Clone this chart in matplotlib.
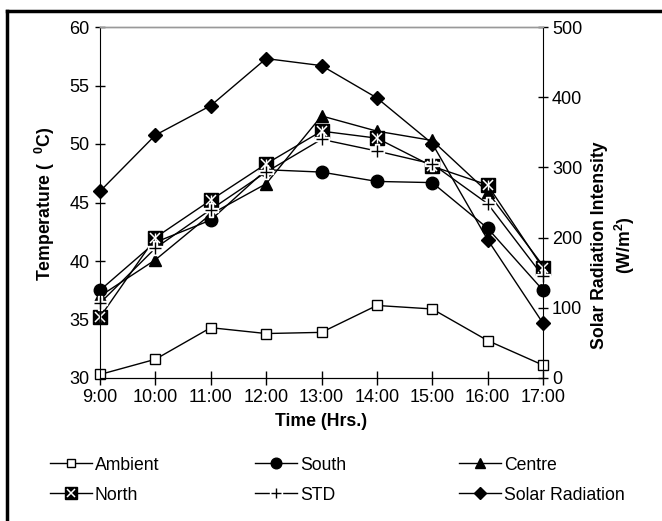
import numpy as np
import matplotlib
matplotlib.use('Agg')
import matplotlib.pyplot as plt
from matplotlib.lines import Line2D

plt.rcParams['font.family'] = ['Liberation Sans', 'DejaVu Sans']
plt.rcParams['mathtext.fontset'] = 'custom'
plt.rcParams['mathtext.rm'] = 'Liberation Sans'
plt.rcParams['mathtext.bf'] = 'Liberation Sans:bold'

# data
hours = [9, 10, 11, 12, 13, 14, 15, 16, 17]
hour_labels = ['9:00', '10:00', '11:00', '12:00', '13:00', '14:00', '15:00', '16:00', '17:00']
ambient = [30.3, 31.6, 34.3, 33.8, 33.9, 36.2, 35.9, 33.2, 31.1]
south = [37.5, 41.6, 43.5, 47.8, 47.6, 46.8, 46.7, 42.8, 37.5]
centre = [37.0, 40.1, 44.0, 46.6, 52.4, 51.1, 50.3, 45.9, 39.6]
north = [35.2, 42.0, 45.2, 48.3, 51.1, 50.5, 48.1, 46.5, 39.4]
std = [36.4, 41.1, 44.4, 47.6, 50.4, 49.4, 48.3, 44.9, 38.7]
solar = [266, 346, 388, 455, 445, 399, 334, 197, 78]

W, H = 662, 521
fig = plt.figure(figsize=(W / 100, H / 100), dpi=100)
ax = fig.add_axes([100 / W, 1 - 378 / H, 443 / W, 351 / H])
ax2 = ax.twinx()

kw = dict(color='black', lw=1, clip_on=False)
l_amb, = ax.plot(hours, ambient, marker='s', ms=7.5, mfc='white', mec='black', mew=1, **kw)
l_south, = ax.plot(hours, south, marker='o', ms=9, mfc='black', mec='black', **kw)
l_cen, = ax.plot(hours, centre, marker='^', ms=8.5, mfc='black', mec='black', **kw)
l_north, = ax.plot(hours, north, marker='s', ms=10, mfc='black', mec='black', **kw)
l_nx, = ax.plot(hours, north, ls='none', marker='x', ms=7, mec='white', mew=1.1, clip_on=False)
l_nv, = ax.plot(hours, north, ls='none', marker='|', ms=7, mec='white', mew=1.0, clip_on=False)
l_std, = ax.plot(hours, std, marker='P', ms=10, mfc='white', mec='white', **kw)
l_stdp, = ax.plot(hours, std, ls='none', marker='+', ms=9, mec='black', mew=1, clip_on=False)
l_sol, = ax2.plot(hours, solar, marker='D', ms=7, mfc='black', mec='black', **kw)

ax.set_xlim(9, 17)
ax.set_ylim(30, 60)
ax.set_yticks(range(30, 61, 5))
ax.set_xticks(hours)
ax.set_xticklabels(hour_labels)
ax2.set_ylim(0, 500)
ax2.set_yticks(range(0, 501, 100))

ax.tick_params(axis='x', direction='inout', length=10, width=1, labelsize=13, pad=3)
ax.tick_params(axis='y', direction='inout', length=7, width=1, labelsize=13, pad=4)
ax2.tick_params(axis='y', direction='inout', length=7, width=1, labelsize=13, pad=3)
for a in (ax, ax2):
    a.spines['top'].set_color('#999999')
    a.spines['top'].set_linewidth(1)
ax.spines['right'].set_visible(False)
ax2.spines['left'].set_visible(False)

ax.set_xlabel('Time (Hrs.)', fontsize=12.7, fontweight='bold', labelpad=5)
fig.text(45 / W, 1 - 204 / H, 'Temperature (  $\\mathbf{^0}$C)', fontsize=12.7,
         fontweight='bold', rotation=90, ha='center', va='center')
fig.text(614 / W, 1 - 245 / H, 'Solar Radiation Intensity\n(W/m$\\mathbf{^{2}}$)',
         fontsize=12.7, fontweight='bold', rotation=90, ha='center', va='center',
         multialignment='center', linespacing=1.25)

# legend: one entry per slot, 3 columns x 2 rows
entries = [
    (l_amb, 'Ambient', 50, 465), (l_south, 'South', 255, 465), (l_cen, 'Centre', 459, 465),
    ((l_north, l_nx), 'North', 50, 495), ((l_std, l_stdp), 'STD', 255, 495),
    (l_sol, 'Solar Radiation', 459, 495),
]
for h, t, px, py in entries:
    fig.legend([h], [t], loc='center left', bbox_to_anchor=(px / W, 1 - py / H),
               frameon=False, fontsize=12.7, handlelength=2.4, handletextpad=0.15,
               borderpad=0, borderaxespad=0, markerscale=0.85)

# page border
fig.add_artist(Line2D([7 / W, 7 / W], [0, 1 - 11 / H], transform=fig.transFigure,
                      color='black', lw=2.5))
fig.add_artist(Line2D([7 / W, 1], [1 - 11 / H, 1 - 11 / H], transform=fig.transFigure,
                      color='black', lw=2.5))

fig.savefig('out.png', dpi=100)
